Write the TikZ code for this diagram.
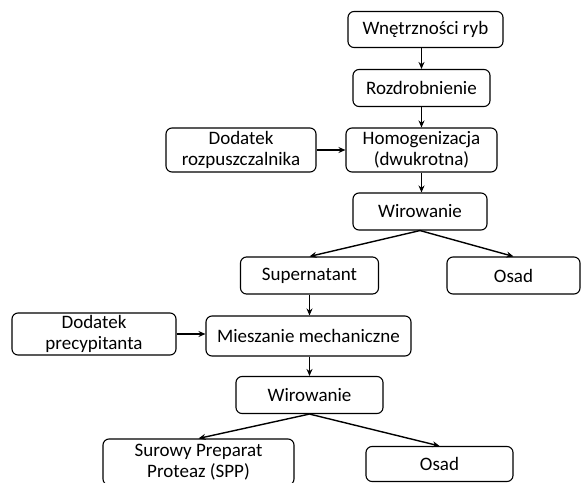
\documentclass[tikz,border=0pt]{standalone}
\usepackage{fontspec}
\setmainfont{Carlito}
\usetikzlibrary{arrows.meta}
\begin{document}
\begin{tikzpicture}[x=1pt,y=-1pt,
 box/.style={draw, rounded corners=6pt, line width=1.1pt, align=center, inner sep=0pt, font=\fontsize{19}{21}\selectfont},
 arr/.style={line width=1.4pt, -{Stealth[length=7pt,width=6pt]}}]
\useasboundingbox (0,0) rectangle (581,482);
\node[box, minimum width=155pt, minimum height=36pt] (wn) at (425.5,29.5) {Wnętrzności ryb};
\node[box, minimum width=137pt, minimum height=37pt] (roz) at (421.5,88) {Rozdrobnienie};
\node[box, minimum width=151pt, minimum height=44pt] (hom) at (421.5,150) {Homogenizacja\\(dwukrotna)};
\node[box, minimum width=150pt, minimum height=44pt] (dr) at (241,150) {Dodatek\\rozpuszczalnika};
\node[box, minimum width=134pt, minimum height=37pt] (wir1) at (420,211.5) {Wirowanie};
\node[box, minimum width=138pt, minimum height=37pt] (sup) at (309.5,275.5) {Supernatant};
\node[box, minimum width=133pt, minimum height=37pt] (os1) at (513.5,275.5) {Osad};
\node[box, minimum width=164pt, minimum height=42pt] (dp) at (94,334) {Dodatek\\precypitanta};
\node[box, minimum width=205pt, minimum height=40pt] (mie) at (308.5,336) {Mieszanie mechaniczne};
\node[box, minimum width=147pt, minimum height=37pt] (wir2) at (309.5,395) {Wirowanie};
\node[box, minimum width=191pt, minimum height=46pt] (spp) at (198.5,462) {Surowy Preparat\\Proteaz (SPP)};
\node[box, minimum width=147pt, minimum height=35pt] (os2) at (439.5,464) {Osad};
\draw[arr] (wn.south -| roz.north) -- (roz.north);
\draw[arr] (roz) -- (hom);
\draw[arr] (hom.south) -- (wir1.north -| hom.south);
\draw[arr] (dr) -- (hom);
\draw[arr] (wir1.south) -- (sup.north);
\draw[arr] (wir1.south) -- (os1.north);
\draw[arr] (sup.south) -- (mie.north -| sup.south);
\draw[arr] (dp.east) -- (dp.east -| mie.west);
\draw[arr] (mie.south -| wir2.north) -- (wir2.north);
\draw[arr] (wir2.south) -- (spp.north);
\draw[arr] (wir2.south) -- (os2.north);
\end{tikzpicture}
\end{document}
